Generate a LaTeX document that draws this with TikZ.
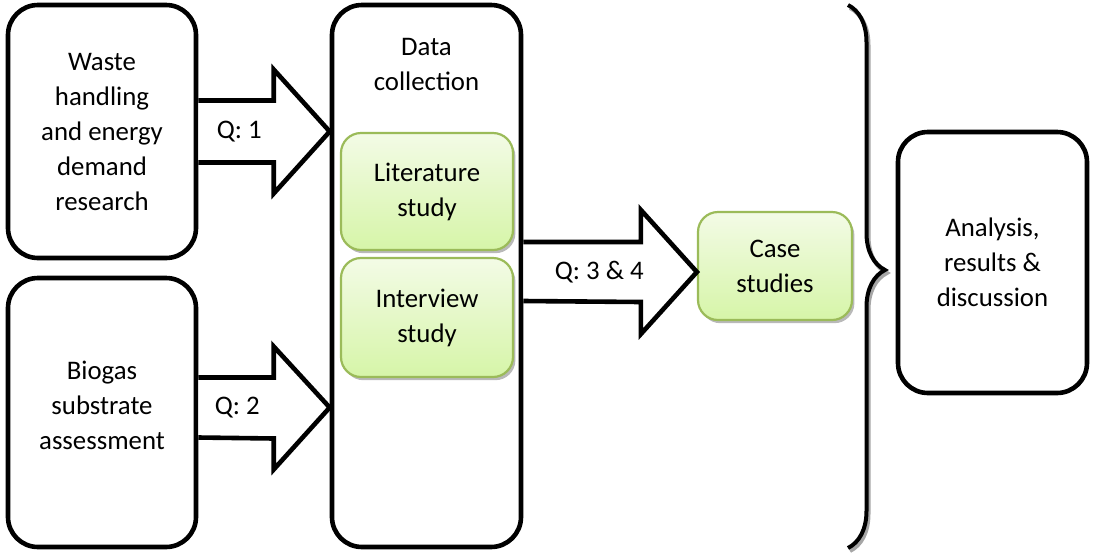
\documentclass[tikz,border=0pt]{standalone}
\usepackage{fontspec}
\setmainfont{Carlito}
\usetikzlibrary{calc,shadows,decorations.pathreplacing}
\definecolor{boxgreen}{RGB}{155,187,89}
\definecolor{greentop}{RGB}{243,251,230}
\definecolor{greenbot}{RGB}{214,245,168}
\tikzset{%
  stagebox/.style={draw=black, line width=2.3pt, rounded corners=15pt, align=center, inner sep=0pt},
  greenbox/.style={draw=boxgreen, line width=1.1pt, rounded corners=10pt, top color=greentop,
    bottom color=greenbot, align=center, inner sep=0pt,
    drop shadow={shadow xshift=1.2pt, shadow yshift=-1.6pt, opacity=0.5, fill=black!55}},
  blockarrow/.style={draw=black, fill=white, line width=2.3pt, line join=miter},
  bracestyle/.style={line width=2pt, decorate, decoration={brace, amplitude=18.5pt, aspect=0.488}}
}

\begin{document}
\begin{tikzpicture}[x=0.5pt,y=-0.5pt,font=\fontsize{13.4}{17.5}\selectfont]
\useasboundingbox (0,0) rectangle (1094,553);

% boxes
\node[stagebox, minimum width=94pt, minimum height=126.5pt] (waste) at (102,131.5)
  {Waste\\handling\\and energy\\demand\\research};
\node[stagebox, minimum width=94pt, minimum height=134.5pt, text depth=7pt] (biogas) at (102,412.5)
  {Biogas\\substrate\\assessment};
\node[stagebox, minimum width=94.5pt, minimum height=271pt] (data) at (426.5,276) {};
\node[anchor=north, align=center, inner sep=0pt] (datalabel) at ($(data.north)+(0,35)$) {Data\\collection};
\node[greenbox, minimum width=86pt, minimum height=58.5pt] (lit) at (427,191.5) {Literature\\study};
\node[greenbox, minimum width=86pt, minimum height=59.5pt] (int) at (427,317.5) {Interview\\study};
\node[greenbox, minimum width=77pt, minimum height=54pt] (case) at (775,266) {Case\\studies};
\node[stagebox, minimum width=94.5pt, minimum height=130.5pt] (analysis) at (992.5,262.5)
  {Analysis,\\results \&\\discussion};

% block arrows
\filldraw[blockarrow] ($(waste.east)+(0,-31)$) -- ($(data.west |- waste.east)+(-56,-31)$)
  -- ++(0,-31) -- (data.west |- waste.east) -- ++(-56,62) -- ++(0,-31) -- ($(waste.east)+(0,31)$);
\node (q1) at ($(waste.east)+(41,0)$) {Q: 1};

\filldraw[blockarrow] ($(biogas.east)+(0,-35)$) -- ($(data.west |- biogas.east)+(-56,-35)$)
  -- ++(0,-31) -- ($(data.west |- biogas.east)+(0,-5)$) -- ++(-56,62) -- ++(0,-31) -- ($(biogas.east)+(0,25)$);
\node (q2) at ($(biogas.east)+(39,-5)$) {Q: 2};

\filldraw[blockarrow] ($(data.east |- case.west)+(0,-24)$) -- ($(case.west)+(-56,-24)$)
  -- ++(0,-32) -- ($(case.west)+(0,6)$) -- ++(-56,62) -- ++(0,-32) -- ($(data.east |- case.west)+(0,35)$);
\node (q3) at ($(data.east |- case.west)+(76,6)$) {Q: 3 \& 4};

% brace
\coordinate (bracetop) at (848,5);
\coordinate (bracebot) at (848,548);
\draw[bracestyle, black!35] ($(bracetop)+(2,3)$) -- ($(bracebot)+(2,3)$);
\draw[bracestyle] (bracetop) -- (bracebot);
\end{tikzpicture}
\end{document}
